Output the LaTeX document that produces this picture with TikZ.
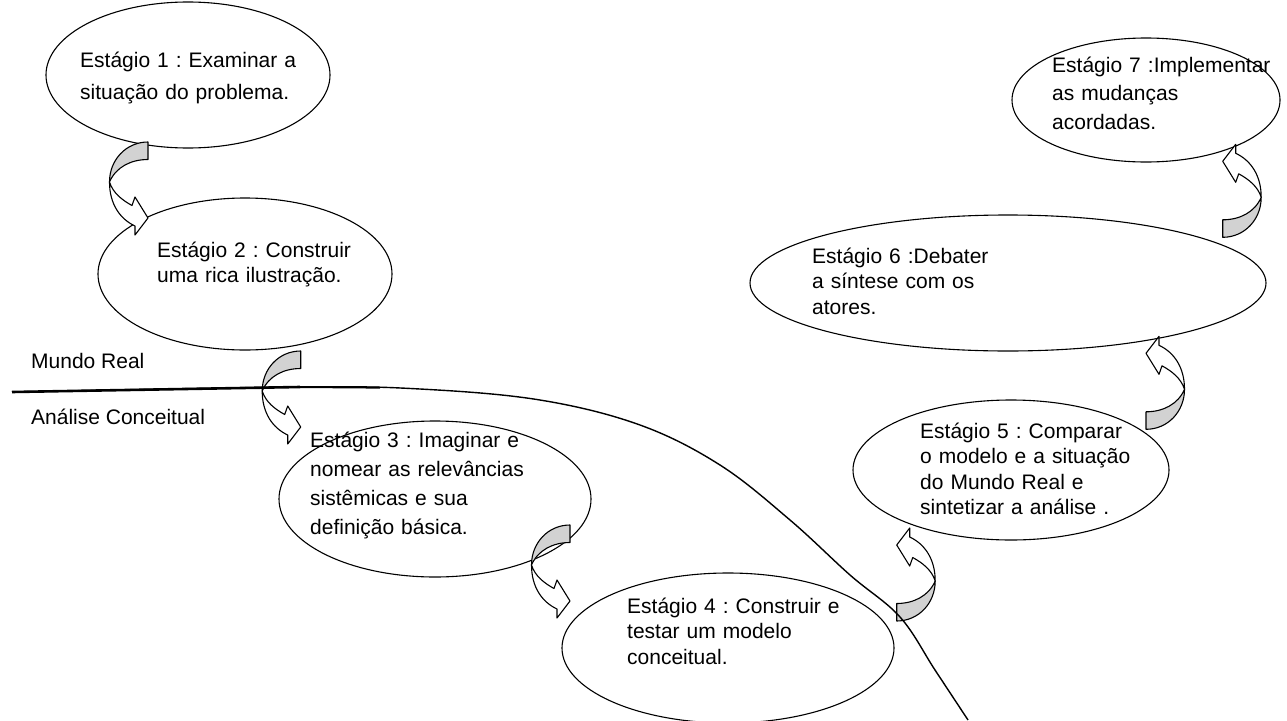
\documentclass[tikz,border=0pt]{standalone}
\usepackage{fontspec}
\setmainfont{Liberation Sans}
\usetikzlibrary{shapes.geometric}
\definecolor{backface}{HTML}{D2D2D2}
\frenchspacing
\tikzset{
  stage/.style={draw=black, line width=1.1pt, ellipse, inner sep=0pt},
  stagetext/.style={anchor=base west, inner sep=0pt, align=left, text width=300pt,
    font=\fontsize{21}{25.5}\selectfont},
  plain/.style={anchor=base west, inner sep=0pt, font=\fontsize{21}{25.5}\selectfont},
  % curved block arrow: shaded back band at the top, white front band ending in the head
  pics/bentarrow/.style={code={
    \draw[fill=backface, line width=1.1pt, line join=round]
      (0,0) .. controls (-22,0) and (-38.5,18) .. (-38.5,40)
      .. controls (-32,25) and (-17,17.5) .. (0,17.5) -- cycle;
    \draw[fill=white, line width=1.1pt, line join=round]
      (-38.5,40) .. controls (-38.5,62) and (-28,77) .. (-13,84)
      -- (-13,93) -- (0,76) -- (-13,55) -- (-16,63.5)
      .. controls (-26,58) and (-35,51) .. (-38.5,40) -- cycle;
  }}
}
\begin{document}
\begin{tikzpicture}[x=1pt, y=-1pt]
\useasboundingbox (0,0) rectangle (1287,720);

% stages
\node[stage, minimum width=284pt, minimum height=146pt] (e1) at (188,75) {};
\node[stage, minimum width=294pt, minimum height=152pt] (e2) at (245,274) {};
\node[stage, minimum width=312pt, minimum height=156pt] (e3) at (435,499) {};
\node[stage, minimum width=332pt, minimum height=150pt] (e4) at (728,648) {};
\node[stage, minimum width=316pt, minimum height=140pt] (e5) at (1011,470) {};
\node[stage, minimum width=516pt, minimum height=136pt] (e6) at (1008,283) {};
\node[stage, minimum width=268pt, minimum height=124pt] (e7) at (1146,100) {};

\node[stagetext, font=\fontsize{21}{32}\selectfont] (t1) at (80,67)
  {Estágio 1 : Examinar a\\situação do problema.};
\node[stagetext] (t2) at (157,257) {Estágio 2 : Construir\\uma rica ilustração.};
\node[stagetext, font=\fontsize{21}{29}\selectfont] (t3) at (310,447)
  {Estágio 3 : Imaginar e\\nomear as relevâncias\\sistêmicas e sua\\definição básica.};
\node[stagetext] (t4) at (627,613) {Estágio 4 : Construir e\\testar um modelo\\conceitual.};
\node[stagetext] (t5) at (920,438) {Estágio 5 : Comparar\\o modelo e a situação\\do Mundo Real e\\sintetizar a análise .};
\node[stagetext] (t6) at (812,263) {Estágio 6 :Debater\\a síntese com os\\atores.};
\node[stagetext, font=\fontsize{21}{28.5}\selectfont] (t7) at (1052,72)
  {Estágio 7 :Implementar\\as mudanças\\acordadas.};

\node[plain] (real) at (31,368) {Mundo Real};
\node[plain] (conc) at (31,424) {Análise Conceitual};

% arrows between the stages
\pic at (148,142) {bentarrow};
\pic at (300.7,351) {bentarrow};
\pic at (570,525) {bentarrow};
\pic[rotate=180] at (896.7,621) {bentarrow};
\pic[rotate=180] at (1146,429.3) {bentarrow};
\pic[rotate=180] at (1222.7,237.3) {bentarrow};

% boundary between the real world and the conceptual analysis
\draw[line width=1.4pt] plot[smooth, tension=0.6] coordinates {
  (12,392) (300,387) (420,389) (540,400) (640,425) (720,465) (790,520)
  (850,575) (900,617) (935,670) (968,720)};
\draw[line width=2.6pt] (12,392) -- (300,387);
\draw[line width=2pt] (300,387) -- (380,387.6);
\end{tikzpicture}
\end{document}
